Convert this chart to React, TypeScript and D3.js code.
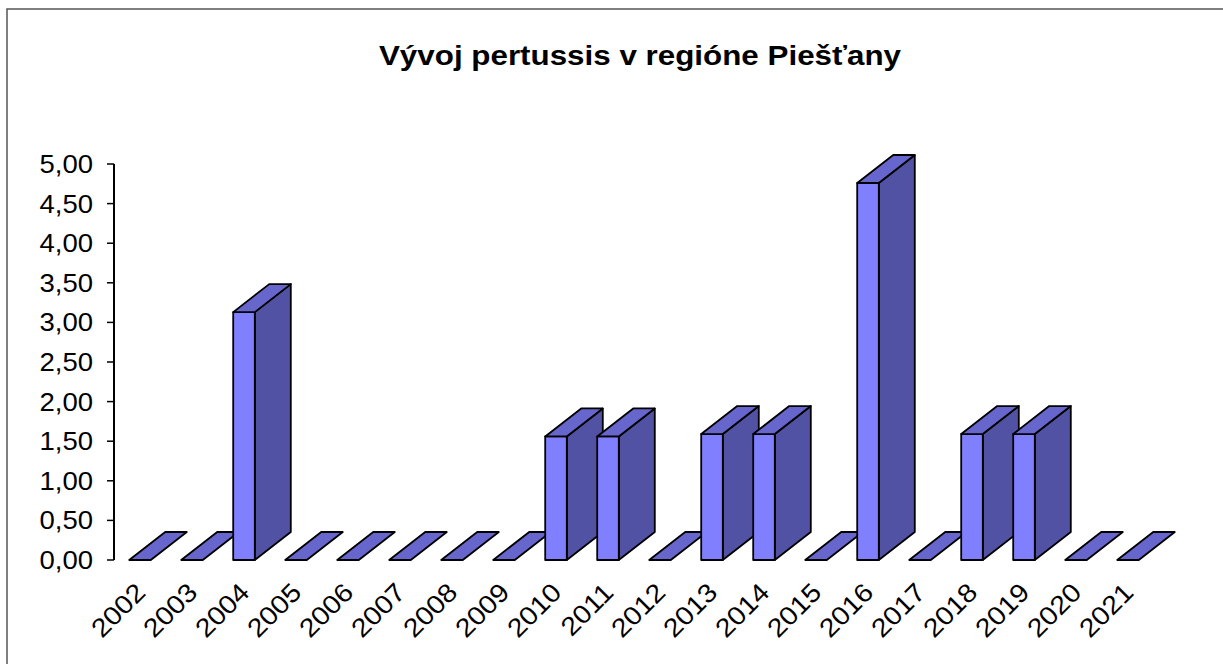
import React from "react";
import * as d3 from "d3";

const years = ["2002","2003","2004","2005","2006","2007","2008","2009","2010","2011","2012","2013","2014","2015","2016","2017","2018","2019","2020","2021"];
const values = [0, 0, 3.13, 0, 0, 0, 0, 0, 1.56, 1.56, 0, 1.59, 1.59, 0, 4.76, 0, 1.59, 1.59, 0, 0];
const yTicks = [0, 0.5, 1, 1.5, 2, 2.5, 3, 3.5, 4, 4.5, 5];
const title = "Vývoj pertussis v regióne Piešťany";

const W = 1223, H = 664;
const left = 114, right = 1154, top = 164, bottom = 560;
const depthX = 36, depthY = -28;

export default function App() {
  const x = d3.scaleBand<string>().domain(years).range([left, right]).paddingInner(0.585).paddingOuter(0.2925);
  const y = d3.scaleLinear().domain([0, 5]).range([bottom, top]);
  const bw = x.bandwidth();
  const fmt = (v: number) => d3.format(".2f")(v).replace(".", ",");
  const font = "Arial, 'Liberation Sans', sans-serif";

  return (
    <svg width={W} height={H} style={{ position: "absolute", left: 0, top: 0, background: "#fff" }} fontFamily={font}>
      <rect x={7} y={9} width={1240} height={680} fill="#fff" stroke="#555" strokeWidth={1.5} />
      <text transform="translate(640,65) scale(1.12,1)" textAnchor="middle" fontSize={28} fontWeight="bold">{title}</text>
      {/* axis */}
      <line x1={left} x2={left} y1={top} y2={bottom} stroke="#000" strokeWidth={2} />
      {yTicks.map((t) => (
        <g key={t}>
          <line x1={left - 7} x2={left} y1={y(t)} y2={y(t)} stroke="#000" strokeWidth={1.5} />
          <text transform={`translate(93,${y(t) + 9}) scale(1.1,1)`} textAnchor="end" fontSize={25}>{fmt(t)}</text>
        </g>
      ))}
      {years.map((yr, i) => {
        const x0 = x(yr)!;
        const x1 = x0 + bw;
        const yt = y(values[i]);
        const yb = y(0);
        const topPts = [[x0, yt], [x1, yt], [x1 + depthX, yt + depthY], [x0 + depthX, yt + depthY]];
        const sidePts = [[x1, yt], [x1 + depthX, yt + depthY], [x1 + depthX, yb + depthY], [x1, yb]];
        const pts = (p: number[][]) => p.map((q) => q.join(",")).join(" ");
        return (
          <g key={yr} stroke="#000" strokeWidth={1.8} strokeLinejoin="round">
            {values[i] > 0 && <polygon points={pts(sidePts)} fill="#5252A4" />}
            {values[i] > 0 && <rect x={x0} y={yt} width={bw} height={yb - yt} fill="#8080FF" />}
            <polygon points={pts(topPts)} fill="#6666CC" />
          </g>
        );
      })}
      {years.map((yr) => {
        const cx = x(yr)! + bw / 2;
        return (
          <text key={yr} transform={`translate(${cx + 7},${594}) rotate(-45) scale(1.1,1)`} textAnchor="end" fontSize={26}>{yr}</text>
        );
      })}
    </svg>
  );
}
